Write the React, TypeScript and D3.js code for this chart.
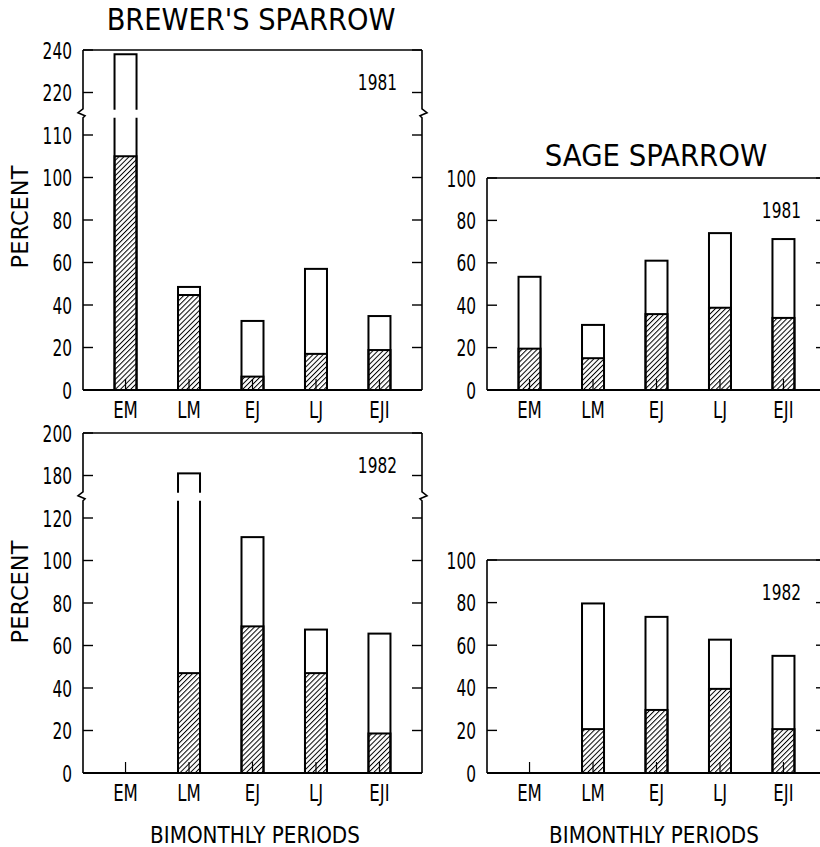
import * as d3 from 'd3';

import React, { useEffect, useRef } from 'react';

const periods = ['EM', 'LM', 'EJ', 'LJ', 'EJI'];

// Brewer's sparrow, percent (total bar, hatched part)
const brewer1981Total = [238, 48.5, 32.5, 57, 34.8];
const brewer1981Hatched = [105, 44.7, 6.3, 17, 18.8];
const brewer1982Total = [null, 181, 111, 67.5, 65.6];
const brewer1982Hatched = [null, 47, 69, 47, 18.6];

// Sage sparrow
const sage1981Total = [53.4, 30.7, 61, 74, 71.2];
const sage1981Hatched = [19.5, 15, 35.8, 38.8, 34];
const sage1982Total = [null, 79.6, 73.3, 62.6, 55];
const sage1982Hatched = [null, 20.6, 29.6, 39.5, 20.6];

const brewer1981Ticks = [0, 20, 40, 60, 80, 100, 110, 220, 240];
const brewer1982Ticks = [0, 20, 40, 60, 80, 100, 120, 180, 200];
const sageTicks = [0, 20, 40, 60, 80, 100];

const FONT = "'DejaVu Sans', sans-serif";

interface IPanel {
  left: number;
  top: number;
  bottom: number;
  ticks: number[];
  breakAt?: number; // index of the tick just below the axis break
  total: (number | null)[];
  hatched: (number | null)[];
  year: string;
}

const panels: IPanel[] = [
  { left: 83, top: 50, bottom: 390, ticks: brewer1981Ticks, breakAt: 6, total: brewer1981Total, hatched: brewer1981Hatched, year: '1981' },
  { left: 83, top: 433, bottom: 773, ticks: brewer1982Ticks, breakAt: 6, total: brewer1982Total, hatched: brewer1982Hatched, year: '1982' },
  { left: 487, top: 178, bottom: 390, ticks: sageTicks, total: sage1981Total, hatched: sage1981Hatched, year: '1981' },
  { left: 487, top: 560, bottom: 773, ticks: sageTicks, total: sage1982Total, hatched: sage1982Hatched, year: '1982' },
];

const PANEL_W = 339;
const BAR_W = 22;

type Sel = d3.Selection<any, any, any, any>;

// condensed text: the original face is a narrow gothic, so squeeze DejaVu horizontally
function narrowText(
  parent: Sel,
  t: string | number,
  x: number,
  y: number,
  opts: { size?: number; sx?: number; anchor?: string; rotate?: boolean } = {},
) {
  const { size = 23, sx = 0.7, anchor = 'middle', rotate = false } = opts;
  parent
    .append('text')
    .attr('transform', `translate(${x},${y})${rotate ? ' rotate(-90)' : ''} scale(${sx},1)`)
    .attr('text-anchor', anchor)
    .attr('font-family', FONT)
    .attr('font-size', size)
    .text(t);
}

export default function App() {
  const ref = useRef<SVGSVGElement>(null);

  useEffect(() => {
    const svg = d3.select(ref.current);
    svg.selectAll('*').remove();

    const defs = svg.append('defs');
    defs
      .append('pattern')
      .attr('id', 'hatch')
      .attr('patternUnits', 'userSpaceOnUse')
      .attr('width', 3.6)
      .attr('height', 10)
      .attr('patternTransform', 'rotate(45)')
      .append('line')
      .attr('x1', 0.5)
      .attr('x2', 0.5)
      .attr('y1', 0)
      .attr('y2', 10)
      .attr('stroke', '#000')
      .attr('stroke-width', 1);

    panels.forEach((p) => {
      const right = p.left + PANEL_W;
      const g = svg.append('g');

      const y = d3
        .scaleLinear()
        .domain(p.ticks)
        .range(p.ticks.map((_, i) => p.bottom - (i * (p.bottom - p.top)) / (p.ticks.length - 1)));

      const x = d3.scalePoint<string>().domain(periods).range([p.left, right]).padding(0.67);

      const breakY =
        p.breakAt !== undefined ? (y(p.ticks[p.breakAt]) + y(p.ticks[p.breakAt + 1])) / 2 : null;

      // bars
      periods.forEach((name, i) => {
        const tot = p.total[i];
        const hat = p.hatched[i];
        if (tot == null || hat == null) return;
        const bx = (x(name) ?? 0) - BAR_W / 2;
        g.append('rect')
          .attr('x', bx)
          .attr('y', y(tot))
          .attr('width', BAR_W)
          .attr('height', y(0) - y(tot))
          .attr('fill', '#fff')
          .attr('stroke', '#000')
          .attr('stroke-width', 2);
        g.append('rect')
          .attr('x', bx)
          .attr('y', y(hat))
          .attr('width', BAR_W)
          .attr('height', y(0) - y(hat))
          .attr('fill', 'url(#hatch)')
          .attr('stroke', '#000')
          .attr('stroke-width', 2);
        if (breakY !== null && tot > p.ticks[p.breakAt! + 1]) {
          g.append('rect')
            .attr('x', bx - 3)
            .attr('y', breakY - 4)
            .attr('width', BAR_W + 6)
            .attr('height', 8)
            .attr('fill', '#fff');
        }
      });

      // frame
      const axisStroke = 1.6;
      g.append('line')
        .attr('x1', p.left).attr('x2', right)
        .attr('y1', p.top).attr('y2', p.top)
        .attr('stroke', '#000').attr('stroke-width', axisStroke);
      g.append('line')
        .attr('x1', p.left).attr('x2', right)
        .attr('y1', y(0)).attr('y2', y(0))
        .attr('stroke', '#000').attr('stroke-width', 2);

      [p.left, right].forEach((ax, side) => {
        const dir = side === 0 ? 1 : -1;
        if (breakY === null) {
          g.append('line')
            .attr('x1', ax).attr('x2', ax)
            .attr('y1', p.top).attr('y2', p.bottom)
            .attr('stroke', '#000').attr('stroke-width', axisStroke);
        } else {
          const path = d3.path();
          path.moveTo(ax, p.top);
          path.lineTo(ax, breakY - 5);
          path.lineTo(ax - 5 * dir, breakY - 1);
          path.lineTo(ax + 2 * dir, breakY + 2);
          path.lineTo(ax, breakY + 4);
          path.lineTo(ax, p.bottom);
          g.append('path')
            .attr('d', path.toString())
            .attr('fill', 'none')
            .attr('stroke', '#000')
            .attr('stroke-width', axisStroke);
        }
        g.selectAll(null)
          .data(p.ticks)
          .join('line')
          .attr('x1', ax)
          .attr('x2', ax + 10 * dir)
          .attr('y1', (d) => y(d))
          .attr('y2', (d) => y(d))
          .attr('stroke', '#000')
          .attr('stroke-width', 1.4);
      });

      // y tick labels
      p.ticks.forEach((t) => narrowText(g, t, p.left - 11, y(t) + 8.5, { anchor: 'end', sx: 0.67 }));

      // x ticks (inward) and labels
      g.selectAll(null)
        .data(periods)
        .join('line')
        .attr('x1', (d) => x(d) ?? 0)
        .attr('x2', (d) => x(d) ?? 0)
        .attr('y1', y(0))
        .attr('y2', y(0) - 11)
        .attr('stroke', '#000')
        .attr('stroke-width', 1.2);

      periods.forEach((d) => narrowText(g, d, x(d) ?? 0, y(0) + 28, { sx: 0.72 }));

      narrowText(g, p.year, right - 25, p.top + 40, { anchor: 'end', size: 22, sx: 0.7 });
    });

    narrowText(svg, "BREWER'S SPARROW", 251, 30, { size: 30, sx: 0.91 });
    narrowText(svg, 'SAGE SPARROW', 656, 166, { size: 31, sx: 0.89 });
    narrowText(svg, 'PERCENT', 28, 217, { size: 22.5, sx: 1, rotate: true });
    narrowText(svg, 'PERCENT', 28, 592, { size: 22.5, sx: 1, rotate: true });
    narrowText(svg, 'BIMONTHLY PERIODS', 255, 843, { size: 23.5, sx: 0.85 });
    narrowText(svg, 'BIMONTHLY PERIODS', 654, 843, { size: 23.5, sx: 0.85 });
  }, []);

  return (
    <svg
      ref={ref}
      width={820}
      height={847}
      style={{ position: 'absolute', left: 0, top: 0, background: '#fff' }}
    ></svg>
  );
}
